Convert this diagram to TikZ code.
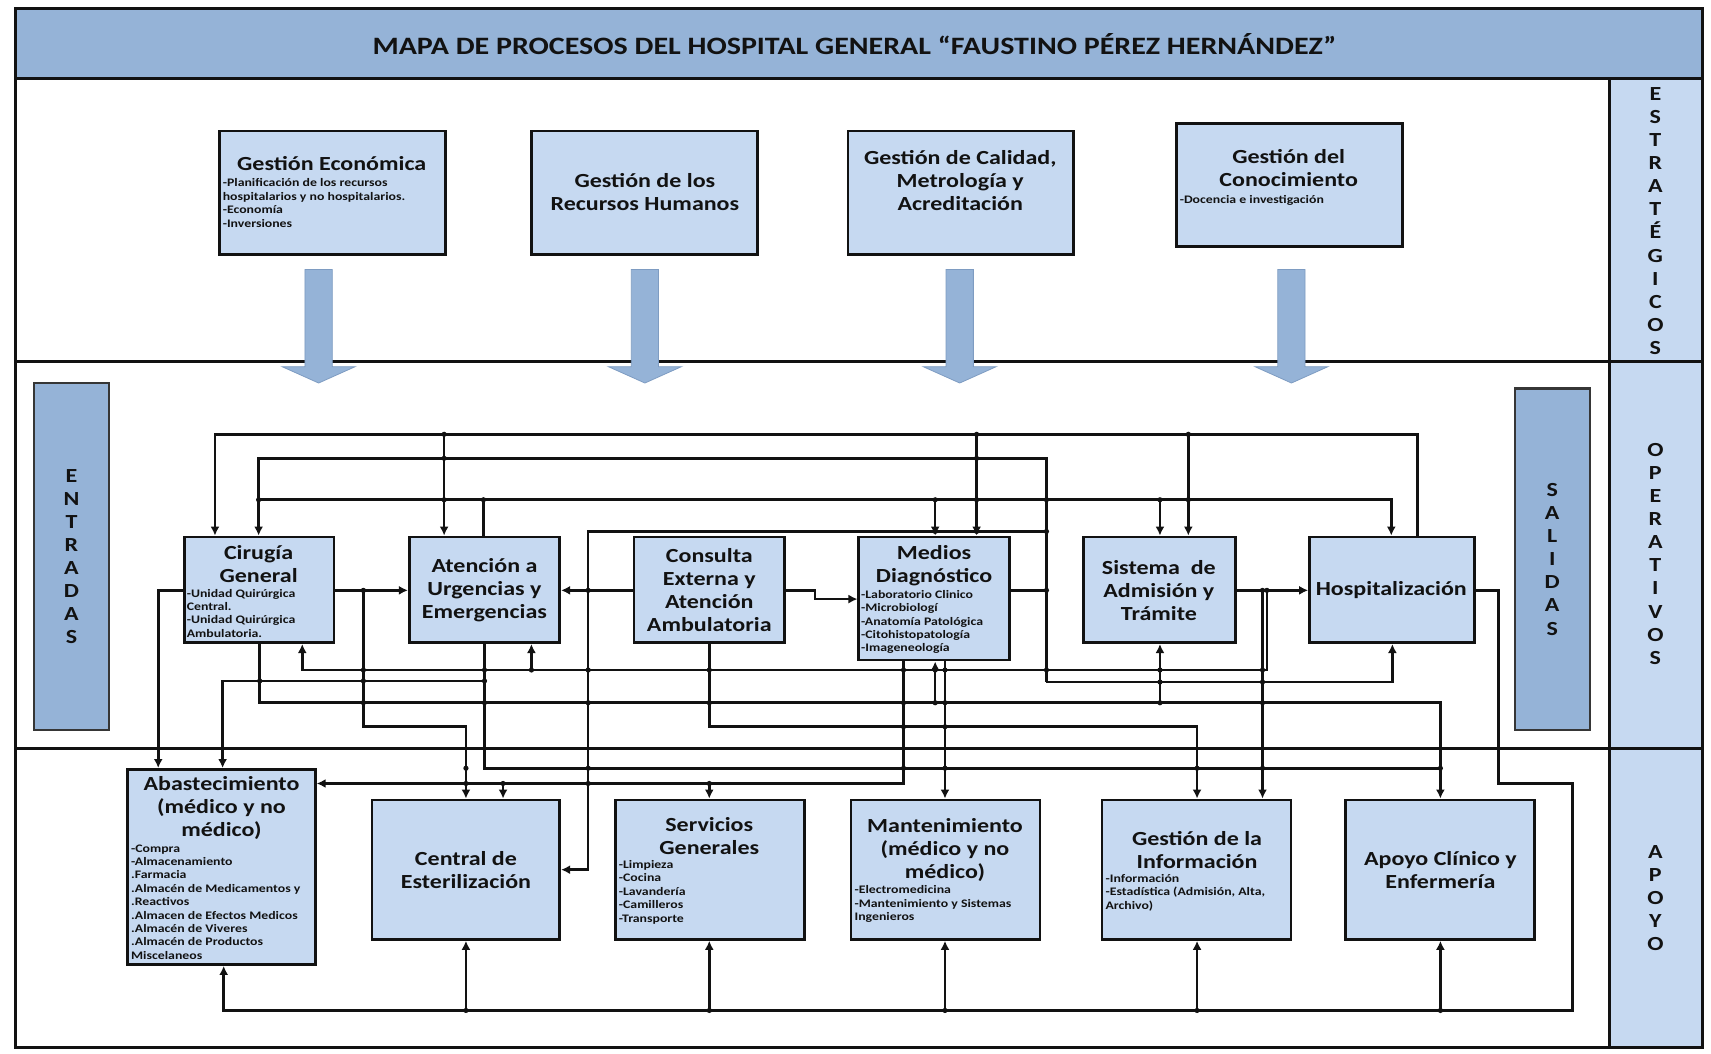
\documentclass[tikz,border=0pt]{standalone}
\usepackage{fontspec}
\setmainfont{Carlito}[FakeStretch=1.2]
\usetikzlibrary{arrows.meta,fit}
\definecolor{boxfill}{HTML}{C6D9F1}
\definecolor{darkfill}{HTML}{95B3D7}
\definecolor{ink}{HTML}{121212}
\definecolor{arrowedge}{HTML}{7E9CC2}
\tikzset{
 box/.style={draw=ink, line width=2.6pt, fill=boxfill, inner sep=0pt},
 bar/.style={draw=ink!85, line width=2.2pt, fill=darkfill, inner sep=0pt},
 frame/.style={draw=ink, line width=3.2pt, inner sep=0pt},
 conn/.style={draw=ink, line width=2.6pt},
 arr/.style={conn, -{Latex[length=9pt,width=9pt]}},
 ttl/.style={font=\bfseries\fontsize{20}{23}\selectfont, align=center, inner sep=0pt, text=ink},
 sml/.style={font=\bfseries\fontsize{11.5}{13.4}\selectfont, align=left, inner sep=0pt, anchor=west, text=ink},
 vlab/.style={font=\bfseries\fontsize{20}{23.1}\selectfont, align=center, inner sep=0pt, text=ink},
 blockarrow/.style={fill=darkfill, draw=arrowedge, line width=0.8pt},
 jdot/.style={fill=ink, draw=none}
}
\begin{document}
\begin{tikzpicture}[x=1.0912pt, y=-1.0912pt]
\useasboundingbox (0,0) rectangle (1568,965);
\fill[white] (0,0) rectangle (1568,965);

% frame and sections
\node[frame, fill=darkfill, fit={(14,8) (1560,72)}] (title) {};
\node[font=\bfseries\fontsize{25}{28}\selectfont, text=ink, inner sep=0pt] (titletext) at (783,40) {MAPA DE PROCESOS DEL HOSPITAL GENERAL “FAUSTINO PÉREZ HERNÁNDEZ”};
\node[frame, fit={(14,72) (1475,331)}] (zest) {};
\node[frame, fit={(14,331) (1475,686)}] (zope) {};
\node[frame, fit={(14,686) (1475,960)}] (zapo) {};
\node[frame, fill=boxfill, fit={(1475,72) (1560,331)}] (sest) {};
\node[frame, fill=boxfill, fit={(1475,331) (1560,686)}] (sope) {};
\node[frame, fill=boxfill, fit={(1475,686) (1560,960)}] (sapo) {};
\node[vlab] (lest) at (1517,202.5) {E\\S\\T\\R\\A\\T\\É\\G\\I\\C\\O\\S};
\node[vlab] (lope) at (1517,507.5) {O\\P\\E\\R\\A\\T\\I\\V\\O\\S};
\node[vlab] (lapo) at (1517,823) {A\\P\\O\\Y\\O};

% entradas / salidas
\node[bar, fit={(31,351) (100,669)}] (ent) {};
\node[vlab] (lent) at (65.5,510) {E\\N\\T\\R\\A\\D\\A\\S};
\node[bar, fit={(1388,356) (1457,669)}] (sal) {};
\node[vlab] (lsal) at (1422.5,512.5) {S\\A\\L\\I\\D\\A\\S};

% strategic boxes
\node[box, fit={(201,120) (408,233)}] (ge) {};
\node[ttl] (tge) at (304,150) {Gestión Económica};
\node[sml] (sge) at (204,186) {-Planificación de los recursos\\hospitalarios y no hospitalarios.\\-Economía\\-Inversiones};
\node[box, fit={(487,120) (694,233)}] (rh) {};
\node[ttl] (trh) at (591,176) {Gestión de los\\Recursos Humanos};
\node[box, fit={(777,120) (984,233)}] (cal) {};
\node[ttl] (tcal) at (880,165) {Gestión de Calidad,\\Metrología y\\Acreditación};
\node[box, fit={(1078,113) (1285,226)}] (gco) {};
\node[ttl] (tgco) at (1181,154) {Gestión del\\Conocimiento};
\node[sml] (sgco) at (1081,184) {-Docencia e investigación};

% block arrows
\foreach \c in {292,591,879.5,1183.5}{
  \draw[blockarrow] (\c-12.5,247) -- (\c+12.5,247) -- (\c+12.5,336) -- (\c+33.5,336) -- (\c,351) -- (\c-33.5,336) -- (\c-12.5,336) -- cycle;
}

% operative boxes
\node[box, fit={(169,492) (306,589)}] (cir) {};
\node[ttl] (tcir) at (237,517) {Cirugía\\General};
\node[sml] (scir) at (171,562) {-Unidad Quirúrgica\\Central.\\-Unidad Quirúrgica\\Ambulatoria.};
\node[box, fit={(375,492) (513,589)}] (ate) {};
\node[ttl] (tate) at (444,541) {Atención a\\Urgencias y\\Emergencias};
\node[box, fit={(581,492) (719,589)}] (cex) {};
\node[ttl] (tcex) at (650,541) {Consulta\\Externa y\\Atención\\Ambulatoria};
\node[box, fit={(787,492) (925,605)}] (med) {};
\node[ttl] (tmed) at (856,518) {Medios\\Diagnóstico};
\node[sml] (smed) at (789,570) {-Laboratorio Clinico\\-Microbiologí\\-Anatomía Patológica\\-Citohistopatología\\-Imageneología};
\node[box, fit={(993,492) (1132,589)}] (sis) {};
\node[ttl] (tsis) at (1062,541) {Sistema\ \ de\\Admisión y\\Trámite};
\node[box, fit={(1200,492) (1351,589)}] (hos) {};
\node[ttl] (thos) at (1275,541) {Hospitalización};

% support boxes
\node[box, fit={(117,705) (289,884)}] (aba) {};
\node[ttl] (taba) at (203,740) {Abastecimiento\\(médico y no\\médico)};
\node[sml] (saba) at (120,826.5) {-Compra\\-Almacenamiento\\.Farmacia\\.Almacén de Medicamentos y\\.Reactivos\\.Almacen de Efectos Medicos\\.Almacén de Viveres\\.Almacén de Productos\\Miscelaneos};
\node[box, fit={(341,733) (513,861)}] (cen) {};
\node[ttl] (tcen) at (427,797) {Central de\\Esterilización};
\node[box, fit={(564,733) (737,861)}] (ser) {};
\node[ttl] (tser) at (650,766) {Servicios\\Generales};
\node[sml] (sser) at (567,817.5) {-Limpieza\\-Cocina\\-Lavandería\\-Camilleros\\-Transporte};
\node[box, fit={(780,733) (953,861)}] (man) {};
\node[ttl] (tman) at (866,779) {Mantenimiento\\(médico y no\\médico)};
\node[sml] (sman) at (783,828.5) {-Electromedicina\\-Mantenimiento y Sistemas\\Ingenieros};
\node[box, fit={(1010,733) (1183,861)}] (gin) {};
\node[ttl] (tgin) at (1097,779) {Gestión de la\\Información};
\node[sml] (sgin) at (1013,818) {-Información\\-Estadística (Admisión, Alta,\\Archivo)};
\node[box, fit={(1233,733) (1406,861)}] (apo) {};
\node[ttl] (tapo) at (1320,797) {Apoyo Clínico y\\Enfermería};

% connectors: top
\draw[arr] (hos.north -| 1299,0) -- (1299,398) -- (197,398) -- (cir.north -| 197,0);
\draw[arr] (407,398) -- (ate.north -| 407,0);
\draw[arr] (895,398) -- (med.north -| 895,0);
\draw[arr] (1089,398) -- (sis.north -| 1089,0);
\draw[arr] (med.east |- 0,541) -- (959,541) -- (959,420) -- (237,420) -- (cir.north -| 237,0);
\draw[conn] (959,541) -- (959,625);
\draw[arr] (959,625) -- (1276,625) -- (hos.south -| 1276,0);
\draw[arr] (959,487) -- (539,487) -- (539,797) -- (cen.east |- 0,797);
\draw[arr] (ate.north -| 443,0) -- (443,458) -- (1275,458) -- (hos.north -| 1275,0);
\draw[conn] (443,458) -- (237,458);
\draw[arr] (857,458) -- (med.north -| 857,0);
\draw[arr] (1063,458) -- (sis.north -| 1063,0);

% connectors: middle
\draw[arr] (cir.east |- 0,541) -- (ate.west |- 0,541);
\draw[arr] (333,541) -- (333,666) -- (427,666) -- (cen.north -| 427,0);
\draw[arr] (cir.west |- 0,541) -- (145,541) -- (aba.north -| 145,0);
\draw[arr] (cex.west |- 0,541) -- (ate.east |- 0,541);
\draw[arr] (cex.east |- 0,541) -- (747,541) -- (747,549) -- (med.west |- 0,549);
\draw[arr] (sis.east |- 0,541) -- (hos.west |- 0,541);
\draw[arr] (1161,541) -- (1161,614) -- (277,614) -- (cir.south -| 277,0);
\draw[arr] (487,614) -- (ate.south -| 487,0);
\draw[arr] (1157,541) -- (gin.north -| 1157,0);
\draw[arr] (hos.east |- 0,541) -- (1373,541) -- (1373,718) -- (1441,718) -- (1441,926) -- (205,926) -- (aba.south -| 205,0);
\draw[arr] (427,926) -- (cen.south -| 427,0);
\draw[arr] (650,926) -- (ser.south -| 650,0);
\draw[arr] (866,926) -- (man.south -| 866,0);
\draw[arr] (1097,926) -- (gin.south -| 1097,0);
\draw[arr] (1320,926) -- (apo.south -| 1320,0);
\draw[arr] (cir.south -| 238,0) -- (238,644) -- (1320,644) -- (apo.north -| 1320,0);
\draw[arr] (1063,644) -- (sis.south -| 1063,0);
\draw[arr] (857,644) -- (med.south -| 857,0);
\draw[conn] (ate.south -| 444,0) -- (444,704) -- (1320,704);
\draw[arr] (444,624) -- (204,624) -- (aba.north -| 204,0);
\draw[arr] (cex.south -| 650,0) -- (650,666) -- (1097,666) -- (gin.north -| 1097,0);
\draw[arr] (med.south -| 828,0) -- (828,718) -- (aba.east |- 0,718);
\draw[arr] (650,718) -- (ser.north -| 650,0);
\draw[arr] (461,718) -- (cen.north -| 461,0);
\draw[arr] (med.south -| 866,0) -- (man.north -| 866,0);

% junction dots
\foreach \p in {(407,420),(407,458),(895,420),(895,458),(895,487),(959,458),(857,487),(1089,458),(539,541),
 (333,614),(333,624),(333,644),(238,624),(444,614),(444,644),(539,614),(539,644),(539,704),(539,718),(650,614),(650,644),
 (828,614),(828,644),(828,666),(828,704),(857,614),(866,614),(866,644),(866,666),(866,704),(959,614),(1063,614),(1063,625),
 (1097,704),(1157,614),(1157,625),(1157,644),(1157,704),(427,704),(427,718),
 (407,398),(895,398),(1089,398),(237,458),(443,458),(857,458),(1063,458),(959,487),(959,541),(333,541),(1157,541),(1161,541),
 (487,614),(444,624),(1063,644),(857,644),(650,718),(461,718),(427,926),(650,926),(866,926),(1097,926),(1320,926),(1320,704)}
 \fill[jdot] \p circle[radius=2.6pt];
\end{tikzpicture}
\end{document}
